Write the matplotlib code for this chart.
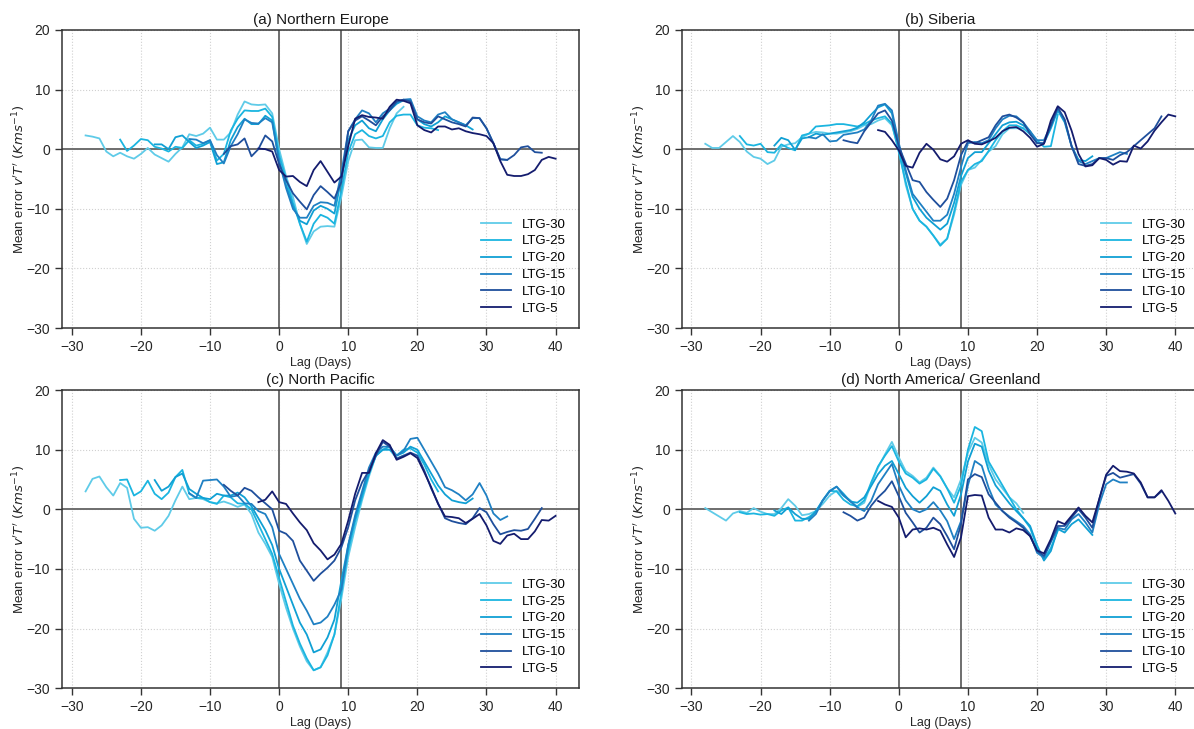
import numpy as np
import matplotlib
matplotlib.use("Agg")
from matplotlib import pyplot as plt

plt.rcParams['font.family'] = ['Liberation Sans', 'DejaVu Sans']
plt.rcParams['mathtext.fontset'] = 'dejavusans'

# leads (first lag of each forecast series)
labels = ['LTG-30', 'LTG-25', 'LTG-20', 'LTG-15', 'LTG-10', 'LTG-5']
starts = [-28, -23, -18, -13, -8, -3]
colors = ['#5fcbe8', '#1bb5e0', '#10a0d4', '#1f80c3', '#1f4f9c', '#141c6e']

# (a) Northern Europe
ne_30 = [2.3, 2.1, 1.8, -0.4, -1.2, -0.6, -1.2, -1.6, -0.8, 0.2, -0.9, -1.5, -2.1, -0.8, 0.3, 2.5,
         2.2, 2.6, 3.6, 1.6, 1.6, 2.8, 5.8, 8.0, 7.5, 7.4, 7.5, 6.0, 0.0, -4.5, -8.0, -12.5, -15.9,
         -13.8, -13.0, -12.9, -13.0, -8.0, -2.0, 1.5, 1.6, 0.3, 0.2, 0.2, 3.5, 6.0, 7.1]
ne_25 = [1.6, -0.3, 0.6, 1.7, 1.5, 0.4, 0.1, -0.4, 0.4, 0.2, 1.5, 0.6, 0.9, 1.5, -1.9, -0.8, 3.1,
         5.1, 6.5, 6.4, 6.4, 6.8, 5.4, -1.0, -5.0, -9.0, -12.5, -15.5, -12.5, -11.0, -11.5, -12.5,
         -7.0, -0.5, 2.5, 3.2, 2.2, 1.8, 2.2, 4.5, 5.6, 5.8, 5.8, 4.0, 3.6, 3.5, 3.2]
ne_20 = [0.8, 0.8, 0.0, 2.0, 2.3, 1.2, 0.2, 0.6, 1.2, -2.5, -2.2, 1.5, 3.7, 5.1, 4.2, 4.2, 5.6, 4.8,
         -2.0, -6.0, -9.5, -12.0, -12.6, -10.3, -9.5, -10.0, -10.8, -5.0, 1.5, 4.0, 4.8, 3.5, 3.0,
         5.0, 6.5, 7.6, 8.2, 8.2, 5.0, 4.2, 3.8, 4.5, 5.5, 5.0, 4.5, 4.0, 3.3]
ne_15 = [1.7, 1.6, 1.0, 1.5, -1.0, -2.4, 0.5, 2.5, 5.0, 4.4, 4.3, 5.2, 4.5, -2.0, -6.5, -10.0, -11.5,
         -11.5, -9.5, -8.9, -9.0, -9.5, -4.0, 3.0, 5.0, 6.5, 6.0, 4.5, 6.0, 6.8, 7.8, 8.3, 8.4, 5.5,
         4.8, 4.5, 5.8, 6.2, 5.0, 4.5, 4.0, 5.2, 5.2, 3.5, 1.0, -1.7, -1.8]
ne_10 = [-0.8, 0.5, 0.8, 1.8, -1.2, 0.0, 2.3, 1.3, -2.5, -5.2, -7.4, -8.8, -10.1, -7.7, -6.2, -7.2,
         -8.3, -5.5, 3.0, 4.8, 5.5, 4.8, 4.0, 5.5, 6.5, 8.0, 8.3, 8.0, 5.0, 4.5, 4.3, 5.5, 5.0, 4.5,
         4.2, 3.8, 5.3, 5.2, 3.5, 1.0, -1.7, -1.8, -1.0, 0.3, 0.5, -0.5, -0.6]
ne_5 = [0.1, 0.0, -0.4, -3.5, -4.6, -4.5, -5.5, -6.2, -3.5, -2.0, -3.8, -5.6, -4.6, 0.5, 5.1, 5.7,
        5.4, 5.3, 5.1, 7.1, 8.3, 8.1, 7.7, 4.0, 3.2, 2.8, 3.8, 3.8, 3.3, 3.5, 3.0, 2.7, 2.5, 2.2, 1.0,
        -2.0, -4.3, -4.5, -4.5, -4.2, -3.5, -1.8, -1.3, -1.6]

# (b) Siberia
sib_30 = [0.9, 0.2, 0.2, 1.2, 2.2, 1.2, -0.4, -1.3, -1.6, -2.5, -1.9, 0.4, 0.8, 1.0, 2.0, 2.6, 2.9,
          2.8, 2.6, 2.6, 2.8, 3.0, 3.4, 4.0, 4.2, 4.8, 5.2, 4.0, 0.0, -6.0, -10.0, -12.0, -13.0,
          -14.5, -16.0, -15.0, -11.0, -6.0, -3.5, -3.1, -1.8, -0.4, 0.5, 2.5, 3.5, 3.5, 3.5]
sib_25 = [2.2, 0.8, 0.6, 0.9, -0.5, -0.6, 0.8, 0.2, -0.2, 2.3, 2.6, 3.8, 3.9, 4.0, 4.2, 4.2, 4.0,
          3.8, 4.2, 4.8, 5.2, 5.5, 4.3, -0.5, -5.5, -10.0, -12.0, -13.0, -14.5, -16.2, -15.0, -10.5,
          -5.5, -3.5, -2.5, -2.0, -0.3, 1.5, 3.0, 4.0, 4.0, 3.5, 2.5, 1.5, 0.4, 0.5, 5.8]
sib_20 = [0.6, 1.9, 1.5, -0.1, 1.8, 2.0, 2.6, 2.4, 2.6, 2.8, 3.0, 3.2, 3.6, 4.5, 5.8, 7.0, 7.5, 6.0,
          0.5, -4.0, -8.0, -10.0, -11.5, -12.5, -13.5, -12.5, -9.0, -4.5, -1.5, -0.5, -0.5, 1.0,
          2.5, 4.0, 4.5, 4.6, 4.0, 3.0, 1.0, 1.0, 3.5, 6.5, 4.5, 0.5, -1.8, -2.0, -1.2]
sib_15 = [2.0, 1.8, 2.5, 1.3, 1.4, 2.4, 2.6, 2.8, 3.3, 4.8, 7.3, 7.6, 6.5, 1.0, -3.5, -7.5, -9.0,
          -10.5, -12.0, -12.0, -11.0, -7.5, -3.0, 1.0, 1.2, 1.0, 1.5, 3.5, 5.0, 5.6, 5.5, 4.5, 3.0,
          1.5, 1.5, 4.0, 6.8, 4.8, 0.5, -2.0, -2.5, -2.0, -1.5, -1.5, -1.0, -0.5, -0.8]
sib_10 = [1.5, 1.2, 1.0, 3.0, 4.5, 6.0, 6.5, 4.8, 0.5, -2.4, -5.2, -5.5, -7.2, -8.5, -9.7, -8.3,
          -5.2, -1.0, 1.3, 1.0, 1.5, 2.0, 4.0, 5.5, 5.8, 5.3, 4.5, 2.5, 1.0, 1.0, 4.0, 7.0, 5.0, 0.5,
          -2.5, -2.8, -2.5, -1.5, -1.5, -1.8, -1.0, -0.5, 0.5, 1.5, 2.5, 3.5, 5.5]
sib_5 = [3.2, 2.9, 1.5, -0.2, -2.8, -3.1, -0.6, 0.9, -0.1, -1.7, -2.1, -1.2, 0.9, 1.5, 0.9, 0.8, 1.3,
         1.9, 3.0, 3.6, 3.7, 3.0, 1.9, 0.4, 0.9, 4.8, 7.2, 6.2, 3.1, -0.8, -2.9, -2.7, -1.5, -1.8,
         -2.6, -2.0, -2.1, 0.6, 0.1, 1.3, 3.1, 4.5, 5.8, 5.5]

# (c) North Pacific
np_30 = [3.0, 5.1, 5.5, 3.7, 2.3, 4.4, 3.6, -1.6, -3.1, -3.0, -3.6, -2.7, -1.1, 1.5, 3.8, 1.7, 1.9,
         1.7, 1.2, 1.0, 1.3, 0.9, 0.4, 0.8, -0.8, -3.9, -5.8, -8.0, -12.5, -16.5, -20.0, -23.0,
         -25.5, -27.0, -26.5, -24.0, -21.0, -15.0, -8.0, -3.0, 1.5, 5.5, 9.0, 10.0, 10.0, 8.5, 9.0]
np_25 = [4.9, 5.0, 2.3, 3.0, 4.8, 2.6, 1.7, 2.8, 5.4, 6.6, 2.6, 1.9, 1.9, 1.2, 0.9, 2.3, 2.0, 1.0,
         0.9, 0.0, -2.5, -5.0, -7.5, -11.5, -15.5, -19.5, -22.5, -25.0, -27.0, -26.5, -24.5, -21.0,
         -14.0, -7.0, -2.0, 2.0, 6.0, 9.0, 10.0, 10.5, 9.0, 10.0, 10.2, 9.5, 7.5, 5.0, 3.0]
np_20 = [4.9, 3.1, 3.8, 5.4, 6.0, 3.4, 2.6, 1.9, 1.7, 2.6, 2.3, 2.3, 2.8, 2.0, 0.5, -1.5, -3.5, -6.0,
         -10.0, -13.0, -16.0, -19.0, -21.0, -24.0, -23.5, -21.5, -18.5, -12.0, -6.0, -1.5, 2.5,
         6.0, 9.0, 10.0, 10.0, 9.0, 9.5, 10.5, 10.0, 8.0, 6.0, 4.0, 2.5, 1.5, 1.2, 1.0, 1.8]
np_15 = [2.7, 1.9, 4.8, 4.9, 5.0, 3.8, 2.1, 2.3, 1.0, 0.9, -0.3, -0.8, -3.0, -7.5, -10.0, -12.5,
         -15.0, -17.0, -19.3, -19.0, -18.0, -16.0, -13.5, -6.0, -1.0, 3.0, 7.0, 9.5, 10.5, 10.5, 9.0,
         9.8, 11.8, 12.0, 10.0, 8.0, 6.0, 3.7, 3.2, 2.5, 1.5, 2.5, 4.4, 2.3, -0.7, -1.8, -1.2]
np_10 = [4.1, 3.1, 2.3, 3.6, 3.1, 2.0, 1.0, 0.0, -3.6, -4.1, -5.3, -8.6, -10.3, -12.0, -10.8, -9.8,
         -8.6, -6.4, -3.0, 1.5, 4.5, 6.5, 9.0, 11.3, 10.5, 8.5, 9.0, 9.5, 9.0, 6.5, 3.5, 1.0, -1.5,
         -2.0, -2.3, -2.5, -1.5, 0.2, -0.5, -2.5, -4.2, -3.8, -3.5, -3.6, -3.3, -1.6, 0.2]
np_5 = [1.2, 1.6, 3.0, 1.2, 0.9, -0.7, -2.2, -3.5, -5.7, -6.9, -8.4, -7.6, -5.8, -1.9, 2.6, 6.1, 6.1,
        9.4, 11.6, 10.8, 8.3, 8.8, 9.4, 8.6, 6.2, 3.7, 0.9, -1.2, -1.3, -1.5, -2.3, -1.6, -0.8,
        -2.7, -5.3, -5.8, -4.4, -4.1, -5.0, -5.0, -3.7, -1.8, -1.9, -1.1]

# (d) North America/ Greenland
na_30 = [0.2, -0.5, -1.2, -1.9, -0.7, -0.3, -0.6, 0.2, -0.4, -0.8, -0.8, 0.2, 1.7, 0.6, -1.0, -0.8,
         -0.3, 0.9, 2.3, 3.1, 2.3, 1.5, 0.4, 1.1, 4.2, 7.0, 9.2, 11.3, 8.7, 6.4, 5.6, 4.5, 5.3, 7.0,
         5.6, 3.5, 2.0, 5.0, 9.5, 12.0, 11.2, 7.5, 5.0, 3.5, 2.0, 1.0, -0.6]
na_25 = [-0.5, -0.8, -0.7, -0.9, -0.8, -1.1, -0.2, 0.3, -1.9, -1.9, -1.3, -0.5, 1.5, 3.1, 3.0, 1.6,
         0.8, 0.5, 1.5, 4.5, 7.2, 9.0, 10.6, 8.0, 6.0, 5.3, 4.3, 5.0, 6.8, 5.5, 3.5, 1.1, 4.0, 10.0,
         13.8, 13.1, 8.0, 6.0, 4.0, 2.0, 0.0, -1.5, -3.1, -6.4, -8.4, -6.5, -3.6]
na_20 = [-0.2, -0.8, 0.3, -0.8, -1.6, -1.6, -0.3, 1.5, 3.1, 3.8, 2.6, 1.3, 1.1, 2.0, 3.9, 5.9, 7.3,
         8.1, 5.9, 3.6, 2.2, 1.1, 2.2, 3.7, 3.1, 0.8, -1.1, 2.5, 8.0, 11.0, 10.5, 6.5, 4.0, 2.5, 1.0,
         -0.3, -1.5, -2.8, -6.0, -8.6, -7.0, -3.3, -3.9, -2.5, -1.7, -3.0, -4.3]
na_15 = [-1.9, -0.8, 1.5, 3.0, 3.8, 2.3, 1.3, 0.3, -0.3, 1.4, 4.2, 5.9, 7.6, 4.0, 1.5, 0.0, -0.5,
         0.0, 1.2, -0.2, -2.0, -5.0, -2.0, 4.0, 8.1, 7.3, 3.6, 0.8, -0.3, -1.2, -2.0, -2.8, -4.2,
         -7.3, -8.1, -5.5, -3.1, -3.4, -1.7, -0.8, -2.2, -3.9, 0.8, 4.2, 5.0, 4.5, 4.5]
na_10 = [-0.5, -1.1, -1.9, -1.4, 0.6, 2.0, 3.1, 4.7, 2.2, -0.6, -2.2, -3.9, -3.1, -1.4, -2.5, -4.5,
         -6.7, -2.5, 5.0, 5.9, 5.4, 2.5, 1.1, -0.3, -1.4, -2.2, -3.1, -4.5, -7.0, -7.8, -5.3, -2.8,
         -2.8, -1.4, 0.0, -1.4, -3.1, 1.7, 5.6, 6.1, 5.3, 5.6, 5.9, 4.3, 2.0, 2.0, 3.0]
na_5 = [1.4, 0.8, 0.4, -1.4, -4.7, -3.4, -3.2, -3.4, -3.1, -3.6, -5.9, -8.0, -4.7, 2.2, 2.4, 2.3,
        -1.4, -3.4, -3.4, -3.9, -3.2, -3.5, -4.5, -6.9, -7.4, -5.0, -2.0, -2.5, -1.1, 0.3, -1.1,
        -2.2, 1.7, 5.8, 7.3, 6.4, 6.3, 6.0, 4.5, 2.0, 2.0, 3.2, 1.4, -0.7]

panels = [
    ('(a) Northern Europe', [ne_30, ne_25, ne_20, ne_15, ne_10, ne_5]),
    ('(b) Siberia', [sib_30, sib_25, sib_20, sib_15, sib_10, sib_5]),
    ('(c) North Pacific', [np_30, np_25, np_20, np_15, np_10, np_5]),
    ('(d) North America/ Greenland', [na_30, na_25, na_20, na_15, na_10, na_5]),
]

fig = plt.figure(figsize=(11.94, 7.29), dpi=100)
# axes boxes in figure fraction: left, bottom, width, height
boxes = [[0.052, 0.550, 0.433, 0.409], [0.571, 0.550, 0.433, 0.409],
         [0.052, 0.056, 0.433, 0.409], [0.571, 0.056, 0.433, 0.409]]

for (title, series), box in zip(panels, boxes):
    ax = fig.add_axes(box)
    for vals, s, lab, c in zip(series, starts, labels, colors):
        lags = np.arange(s, s + len(vals))
        ax.plot(lags, vals, color=c, lw=1.3, label=lab)
    ax.axhline(0, color='#6e6e6e', lw=1.4, zorder=1)
    ax.axvline(0, color='#6e6e6e', lw=1.4, zorder=1)
    ax.axvline(9, color='#6e6e6e', lw=1.4, zorder=1)
    ax.set_ylim(-30, 20)
    ax.set_yticks([-30, -20, -10, 0, 10, 20])
    ax.set_xticks([-30, -20, -10, 0, 10, 20, 30, 40])
    ax.grid(True, ls=':', color='#d0d0d0', lw=0.8)
    ax.set_axisbelow(True)
    for sp in ax.spines.values():
        sp.set_color('#333333')
        sp.set_linewidth(1.1)
    ax.tick_params(direction='out', length=5, width=1, colors='#333333', labelsize=10,
                   labelcolor='#262626')
    ax.set_title(title, fontsize=11, color='#1a1a1a', pad=4)
    ax.set_xlabel('Lag (Days)', fontsize=9, color='#262626', labelpad=2)
    ax.set_ylabel(r"Mean error $v'T'$ $(Kms^{-1})$", fontsize=9.5, color='#262626', labelpad=-1)
    ax.legend(loc='lower right', frameon=False, fontsize=9.5, handlelength=2.3,
              labelspacing=0.35, borderaxespad=0.6)

fig.savefig('out.png', dpi=100)
